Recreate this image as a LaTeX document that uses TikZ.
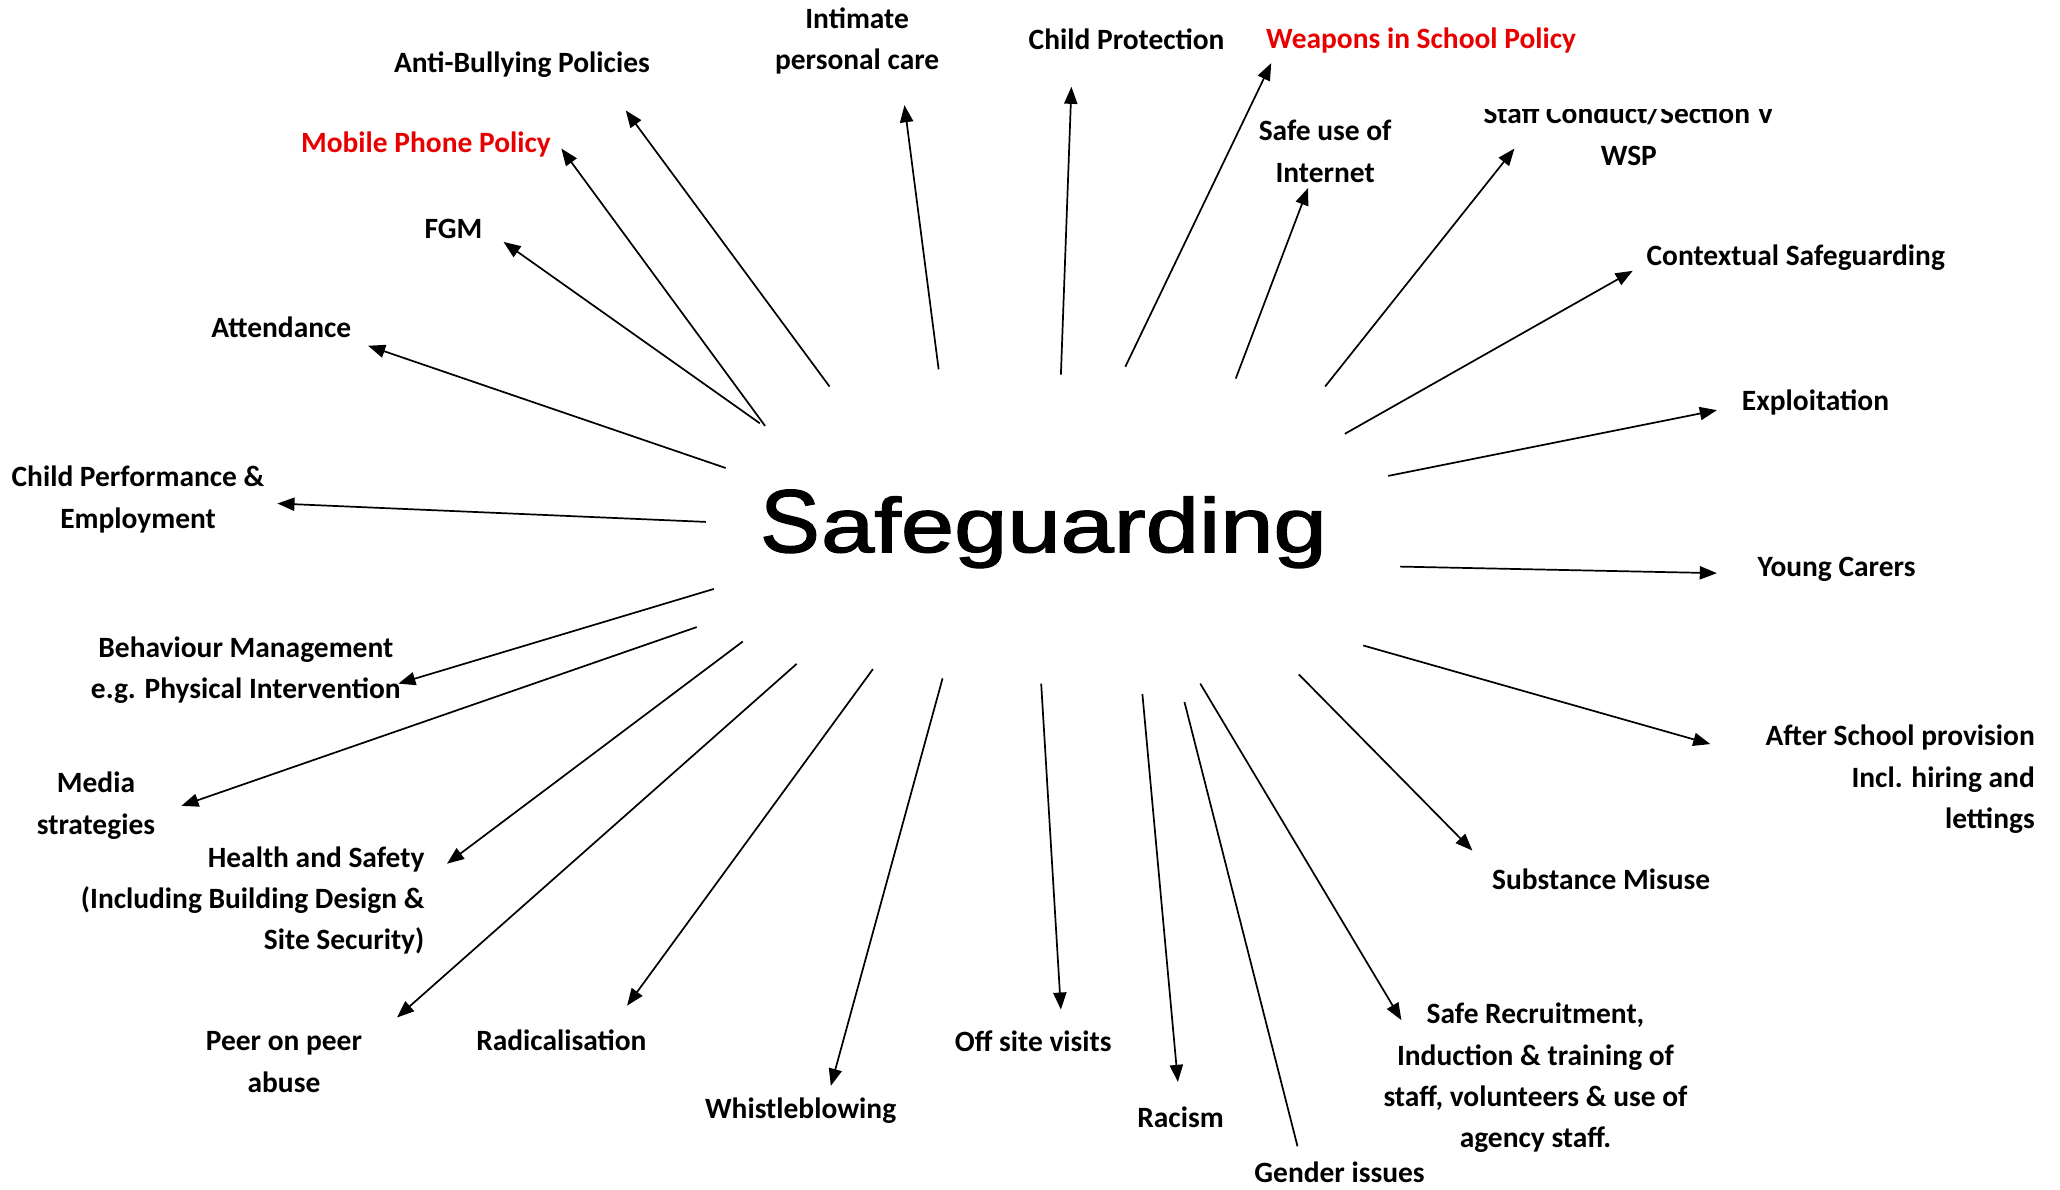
\documentclass[tikz,border=0pt]{standalone}
\usepackage{fontspec}
\usepackage{graphicx}
\setmainfont{Carlito}
\newfontfamily\arialfont[FakeBold=1.6]{Liberation Sans}
\usetikzlibrary{arrows.meta}
\definecolor{wordred}{RGB}{232,0,0}
\begin{document}
\begin{tikzpicture}[x=1pt,y=-1pt,
  lbl/.style={font=\fontsize{22.4}{31.5}\selectfont\bfseries, inner sep=0pt, align=center},
  redlbl/.style={lbl, text=wordred},
  arr/.style={line width=1.3pt, -{Triangle[length=13pt,width=10pt]}},
  bare/.style={line width=1.3pt}]
\useasboundingbox (0,0) rectangle (1567,904.5);
\fill[white] (0,0) rectangle (1567,904.5);

% centre
\node[inner sep=0pt, anchor=base west] (safe) at (578,420)
  {\arialfont\fontsize{68}{80}\selectfont S\kern1pt\scalebox{1.245}[1]{\fontsize{58.5}{70}\selectfont afeguarding}};

% labels
\node[lbl] (intimate) at (652,31) {Intimate\\personal care};
\node[lbl] (antibully) at (397,49) {Anti-Bullying Policies};
\node[redlbl] (mobile) at (324,110) {Mobile Phone Policy};
\node[lbl] (fgm) at (345,174) {FGM};
\node[lbl] (attend) at (214,249) {Attendance};
\node[lbl] (childperf) at (105,380) {Child Performance \&\\Employment};
\node[lbl] (childprot) at (857,30) {Child Protection};
\node[redlbl] (weapons) at (1081,31) {Weapons in School Policy};
\node[lbl] (internet) at (1008,115) {Safe use of\\Internet};
\begin{scope}
\clip (1100,83) rectangle (1400,140);
\node[lbl] (staff) at (1239,102) {Staff Conduct/Section V\\WSP};
\end{scope}
\node[lbl] (context) at (1366,196) {Contextual Safeguarding};
\node[lbl] (exploit) at (1381,306) {Exploitation};
\node[lbl] (young) at (1397,433) {Young Carers};
\node[lbl, align=right, anchor=east] (after) at (1548,593) {After School provision\\Incl. hiring and\\lettings};
\node[lbl] (substance) at (1218,669) {Substance Misuse};
\node[lbl] (recruit) at (1168,820) {Safe Recruitment,\\Induction \& training of\\staff, volunteers \& use of\\agency staff.};
\node[lbl] (gender) at (1019,892) {Gender issues};
\node[lbl] (racism) at (898,850) {Racism};
\node[lbl] (offsite) at (786,792) {Off site visits};
\node[lbl] (whistle) at (609,845) {Whistleblowing};
\node[lbl] (radical) at (427,791) {Radicalisation};
\node[lbl] (peer) at (216,808) {Peer on peer\\abuse};
\node[lbl, align=right, anchor=east] (health) at (323,685) {Health and Safety\\(Including Building Design \&\\Site Security)};
\node[lbl] (media) at (73,613) {Media\\strategies};
\node[lbl] (behav) at (187,510) {Behaviour Management\\e.g. Physical Intervention};

% connector end points
\coordinate (s1) at (714,281);  \coordinate (e1) at (688,80);
\coordinate (s2) at (631,294);  \coordinate (e2) at (476,84);
\coordinate (s3) at (582,324);  \coordinate (e3) at (427,113);
\coordinate (s4) at (578,322);  \coordinate (e4) at (383,184);
\coordinate (s5) at (552,356);  \coordinate (e5) at (280,263);
\coordinate (s6) at (537,397);  \coordinate (e6) at (211,383);
\coordinate (s7) at (807,285);  \coordinate (e7) at (815,66);
\coordinate (s8) at (856,279);  \coordinate (e8) at (967,48);
\coordinate (s9) at (940,288);  \coordinate (e9) at (995,143);
\coordinate (s10) at (1008,294); \coordinate (e10) at (1152,113);
\coordinate (s11) at (1023,330); \coordinate (e11) at (1242,206);
\coordinate (s12) at (1056,362); \coordinate (e12) at (1306,312);
\coordinate (s13) at (1065,431); \coordinate (e13) at (1306,436);
\coordinate (s14) at (1037,491); \coordinate (e14) at (1301,566);
\coordinate (s15) at (988,513);  \coordinate (e15) at (1120,647);
\coordinate (s16) at (913,520);  \coordinate (e16) at (1066,776);
\coordinate (s17) at (901,534);  \coordinate (e17) at (987,872);
\coordinate (s18) at (869,528);  \coordinate (e18) at (896,823);
\coordinate (s19) at (792,520);  \coordinate (e19) at (807,768);
\coordinate (s20) at (717,516);  \coordinate (e20) at (632,826);
\coordinate (s21) at (664,509);  \coordinate (e21) at (477,765);
\coordinate (s22) at (606,505);  \coordinate (e22) at (302,774);
\coordinate (s23) at (565,488);  \coordinate (e23) at (340,657);
\coordinate (s24) at (530,477);  \coordinate (e24) at (138,613);
\coordinate (s25) at (543,448);  \coordinate (e25) at (303,520);

\foreach \i in {1,...,16,18,19,...,25} {\draw[arr] (s\i) -- (e\i);}
\draw[bare] (s17) -- (e17);
\end{tikzpicture}
\end{document}
